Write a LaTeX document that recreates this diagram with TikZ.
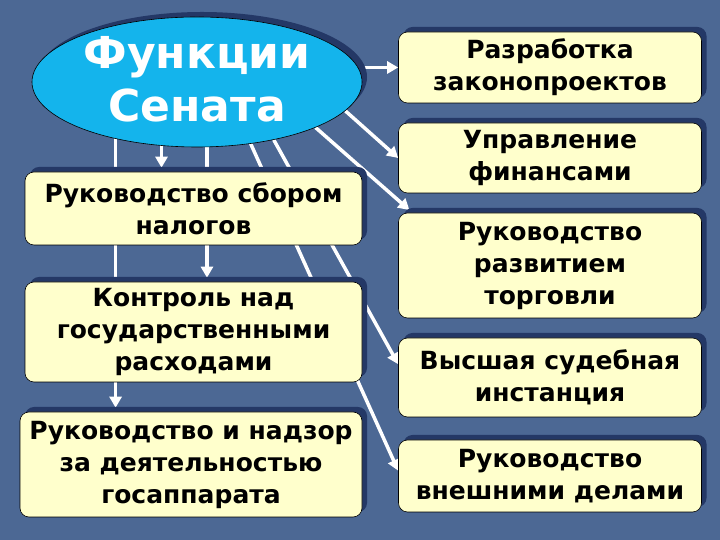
\documentclass[tikz,border=0pt]{standalone}
\usepackage{fontspec}
\setmainfont{DejaVu Sans}
\usetikzlibrary{shapes.geometric,shadows,arrows.meta}
\definecolor{Bg}{RGB}{76,104,148}
\definecolor{Box}{RGB}{255,255,204}
\definecolor{Sky}{RGB}{20,180,236}
\definecolor{Shd}{RGB}{36,56,102}
\def\Wd{720}
\def\Ht{540}
\def\Rx{550}
\def\Rw{303}
\pgfdeclarelayer{bg}
\pgfdeclarelayer{links}
\pgfsetlayers{bg,links,main}

\begin{document}
\begin{tikzpicture}[x=1pt,y=1pt,
    func/.style={draw=black,line width=0.6pt,fill=Box,rounded corners=9pt,align=center,inner sep=2pt,
        font=\fontsize{25}{32}\selectfont\bfseries,
        general shadow={fill=Shd,shadow xshift=5pt,shadow yshift=5pt}},
    arr/.style={draw=white,line width=3.5pt,-{Triangle[length=11pt,width=12pt]}},
    arrtop/.style={arr,shorten >=4pt}]
    \path[use as bounding box] (0,0) rectangle (\Wd,\Ht);
    \begin{pgfonlayer}{bg}
        \fill[Bg] (0,0) rectangle (\Wd,\Ht);
    \end{pgfonlayer}
    \node[ellipse,draw=black,line width=0.6pt,fill=Sky,minimum width=330pt,minimum height=130pt,inner sep=0pt,
        general shadow={fill=Shd,shadow xshift=5pt,shadow yshift=5pt},
        font=\fontsize{44}{53}\selectfont\bfseries,text=white,align=center,
        text height=80pt,text depth=-40pt] (sen) at (197,458) {Функции\\Сената};
    \node[func,minimum width=337pt,minimum height=73pt] (b1) at (193.5,331.5) {Руководство сбором\\налогов};
    \node[func,minimum width=337pt,minimum height=100pt] (b2) at (193.5,208) {Контроль над\\государственными\\расходами};
    \node[func,minimum width=342pt,minimum height=105pt] (b3) at (191,75.5) {Руководство и надзор\\за деятельностью\\госаппарата};
    \foreach \n/\yc/\h/\t in {r1/472.5/71/{Разработка\\законопроектов},r2/382/70/{Управление\\финансами},
        r3/274.5/105/{Руководство\\развитием\\торговли},r4/162.5/79/{Высшая судебная\\инстанция},
        r5/64/72/{Руководство\\внешними делами}}
        \node[func,minimum width=\Rw pt,minimum height=\h pt] (\n) at (\Rx,\yc) {\t};
    \begin{pgfonlayer}{links}
        \draw[arr] (sen.east |- r1.west) -- (r1.west);
        \draw[arr] (sen.-11) -- (r2.west);
        \draw[arrtop] (sen.-21) -- (r3.159);
        \draw[arr] (sen.-37) -- (r4.175);
        \draw[arr] (sen.-49) -- (r5.178);
        \draw[arrtop] (b1.131 |- sen.center) -- (b1.131);
        \draw[arrtop] (b2.75 |- sen.center) -- (b2.75);
        \draw[arrtop] (b3.145 |- sen.center) -- (b3.145);
    \end{pgfonlayer}
\end{tikzpicture}
\end{document}
